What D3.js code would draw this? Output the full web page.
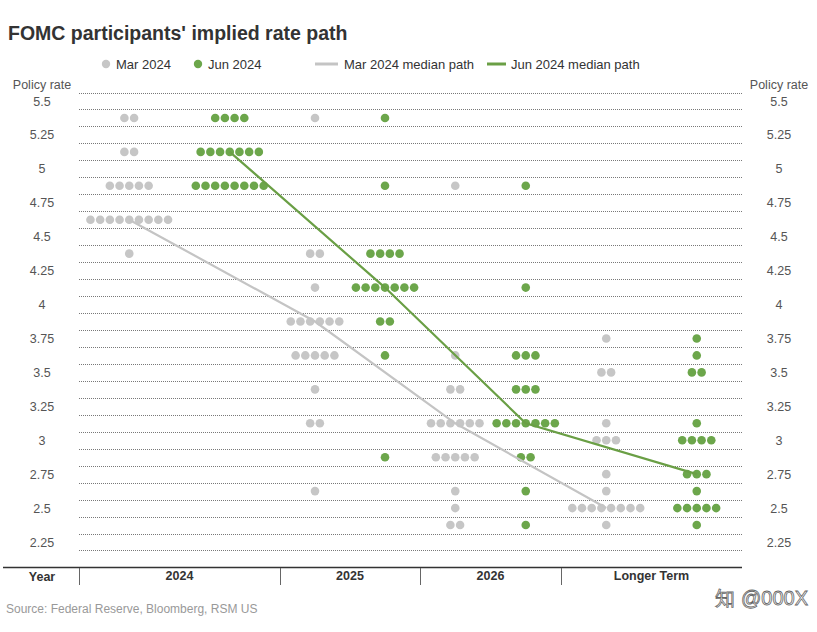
<!DOCTYPE html>
<html><head><meta charset="utf-8">
<script src="https://cdn.jsdelivr.net/npm/d3@7"></script>
<style>body{margin:0;background:#fff}svg{display:block;font-family:"Liberation Sans",Arial,sans-serif}</style>
</head><body><svg id="c" width="817" height="632"></svg>
<script>
const years = ["2024", "2025", "2026", "Longer Term"];
const yTicks = [5.5, 5.25, 5, 4.75, 4.5, 4.25, 4, 3.75, 3.5, 3.25, 3, 2.75, 2.5, 2.25];
// [year, rate, number of participants]
const marDots = [
  ["2024",5.375,2],["2024",5.125,2],["2024",4.875,5],["2024",4.625,9],["2024",4.375,1],
  ["2025",5.375,1],["2025",4.375,2],["2025",4.125,1],["2025",3.875,6],["2025",3.625,5],["2025",3.375,1],["2025",3.125,2],["2025",2.625,1],
  ["2026",4.875,1],["2026",3.625,1],["2026",3.375,2],["2026",3.125,6],["2026",2.875,5],["2026",2.625,1],["2026",2.5,1],["2026",2.375,2],
  ["Longer Term",3.75,1],["Longer Term",3.5,2],["Longer Term",3.125,1],["Longer Term",3.0,3],["Longer Term",2.75,1],["Longer Term",2.625,1],["Longer Term",2.5,8],["Longer Term",2.375,1]
];
const junDots = [
  ["2024",5.375,4],["2024",5.125,7],["2024",4.875,8],
  ["2025",5.375,1],["2025",4.875,1],["2025",4.375,4],["2025",4.125,7],["2025",3.875,2],["2025",3.625,1],["2025",2.875,1],
  ["2026",4.875,1],["2026",4.125,1],["2026",3.625,3],["2026",3.375,3],["2026",3.125,7],["2026",2.875,2],["2026",2.625,1],["2026",2.375,1],
  ["Longer Term",3.75,1],["Longer Term",3.625,1],["Longer Term",3.5,2],["Longer Term",3.125,1],["Longer Term",3.0,4],["Longer Term",2.75,3],["Longer Term",2.625,1],["Longer Term",2.5,5],["Longer Term",2.375,1]
];
const marMedian = [4.625, 3.875, 3.125, 2.5];
const junMedian = [5.125, 4.125, 3.125, 2.75];

const GREY = "#c6c6c6", GREEN = "#6ca64b", GREEN_LINE = "#6a9f45", GREY_LINE = "#c4c4c4";
const svg = d3.select("#c");

// piecewise x scale: section boundaries
const x = d3.scaleLinear().domain([0, 1, 2, 3, 4]).range([79, 280, 420, 561, 742]);
const y = d3.scaleLinear().domain([5.5, 2.25]).range([101, 542]);
const yi = d => years.indexOf(d);

// title
svg.append("text").attr("x", 8).attr("y", 40).attr("font-size", 19.5).attr("font-weight", "bold")
  .attr("fill", "#333").text("FOMC participants' implied rate path");

// legend
const lg = svg.append("g").attr("font-size", 13).attr("fill", "#333");
lg.append("circle").attr("cx", 106).attr("cy", 64).attr("r", 4.2).attr("fill", GREY);
lg.append("text").attr("x", 116).attr("y", 69).text("Mar 2024");
lg.append("circle").attr("cx", 198).attr("cy", 64).attr("r", 4.2).attr("fill", GREEN);
lg.append("text").attr("x", 208).attr("y", 69).text("Jun 2024");
lg.append("line").attr("x1", 315).attr("x2", 338).attr("y1", 64).attr("y2", 64).attr("stroke", GREY_LINE).attr("stroke-width", 3);
lg.append("text").attr("x", 344).attr("y", 69).text("Mar 2024 median path");
lg.append("line").attr("x1", 487).attr("x2", 506).attr("y1", 64).attr("y2", 64).attr("stroke", GREEN_LINE).attr("stroke-width", 3);
lg.append("text").attr("x", 511).attr("y", 69).text("Jun 2024 median path");

// gridlines at eighth boundaries
const gridVals = d3.range(0, 28).map(i => 5.5625 - i * 0.125);
svg.append("g").selectAll("line").data(gridVals).join("line")
  .attr("x1", x(0)).attr("x2", x(4))
  .attr("y1", d => Math.round(y(d)) + 0.5).attr("y2", d => Math.round(y(d)) + 0.5)
  .attr("stroke", "#555").attr("stroke-width", 0.8).attr("stroke-dasharray", "1,1");

// y axes (labels only)
const fmt = d => String(d);
const yl = d3.axisLeft(y).tickValues(yTicks).tickFormat(fmt).tickSize(0).tickPadding(0);
const gl = svg.append("g").attr("transform", "translate(42,0)").call(yl);
const gr = svg.append("g").attr("transform", "translate(779,0)").call(d3.axisRight(y).tickValues(yTicks).tickFormat(fmt).tickSize(0).tickPadding(0));
[gl, gr].forEach(g => {
  g.select(".domain").remove();
  g.selectAll("text").attr("text-anchor", "middle").attr("font-size", 12.5).attr("fill", "#555")
    .attr("font-family", "Liberation Sans, Arial, sans-serif");
});
svg.append("text").attr("x", 42).attr("y", 89).attr("text-anchor", "middle").attr("font-size", 12.5).attr("fill", "#555").text("Policy rate");
svg.append("text").attr("x", 779).attr("y", 89).attr("text-anchor", "middle").attr("font-size", 12.5).attr("fill", "#555").text("Policy rate");

// dots
const SP = 9.7, R = 4.3;
function expand(rows, off) {
  const out = [];
  rows.forEach(([yr, v, n]) => {
    const cx = x(yi(yr) + off);
    for (let j = 0; j < n; j++) out.push({ cx: cx + (j - (n - 1) / 2) * SP, v });
  });
  return out;
}
svg.append("g").selectAll("circle").data(expand(marDots, 0.25)).join("circle")
  .attr("cx", d => d.cx).attr("cy", d => y(d.v)).attr("r", R).attr("fill", GREY);
svg.append("g").selectAll("circle").data(expand(junDots, 0.75)).join("circle")
  .attr("cx", d => d.cx).attr("cy", d => y(d.v)).attr("r", R).attr("fill", GREEN);

// median paths
const lineM = d3.line().x((d, i) => x(i + 0.25)).y(d => y(d));
const lineJ = d3.line().x((d, i) => x(i + 0.75)).y(d => y(d));
svg.append("path").attr("d", lineM(marMedian)).attr("fill", "none").attr("stroke", GREY_LINE).attr("stroke-width", 2.2);
svg.append("path").attr("d", lineJ(junMedian)).attr("fill", "none").attr("stroke", GREEN_LINE).attr("stroke-width", 2.2);

// x axis
svg.append("line").attr("x1", 3).attr("x2", x(4)).attr("y1", 567.5).attr("y2", 567.5).attr("stroke", "#333").attr("stroke-width", 1.5);
svg.append("g").selectAll("line").data([0, 1, 2, 3]).join("line")
  .attr("x1", d => Math.round(x(d)) + 0.5).attr("x2", d => Math.round(x(d)) + 0.5)
  .attr("y1", 568).attr("y2", 585).attr("stroke", "#666").attr("stroke-width", 1);
const xa = d3.axisBottom(d3.scaleLinear().domain([0, 4]).range([x(0), x(4)]))
  .tickValues([0.5, 1.5, 2.5, 3.5]).tickFormat(d => years[Math.floor(d)]).tickSize(0).tickPadding(0);
const gx = svg.append("g").attr("transform", "translate(0,571)").call(xa);
gx.select(".domain").remove();
gx.selectAll("text").attr("font-size", 12.5).attr("font-weight", "bold").attr("fill", "#333")
  .attr("font-family", "Liberation Sans, Arial, sans-serif");
gx.selectAll(".tick").attr("transform", function(d) {
  // centre each label in its section
  return `translate(${(x(Math.floor(d)) + x(Math.floor(d) + 1)) / 2},0)`;
});
svg.append("text").attr("x", 42).attr("y", 581).attr("text-anchor", "middle").attr("font-size", 12.5)
  .attr("font-weight", "bold").attr("fill", "#333").text("Year");

// source
svg.append("text").attr("x", 6).attr("y", 613).attr("font-size", 12).attr("fill", "#999")
  .text("Source: Federal Reserve, Bloomberg, RSM US");
// watermark
svg.append("text").attr("x", 808).attr("y", 605).attr("text-anchor", "end").attr("font-size", 20)
  .attr("fill", "#fff").attr("stroke", "#666").attr("stroke-width", 0.8).text("知 @000X");
</script></body></html>
